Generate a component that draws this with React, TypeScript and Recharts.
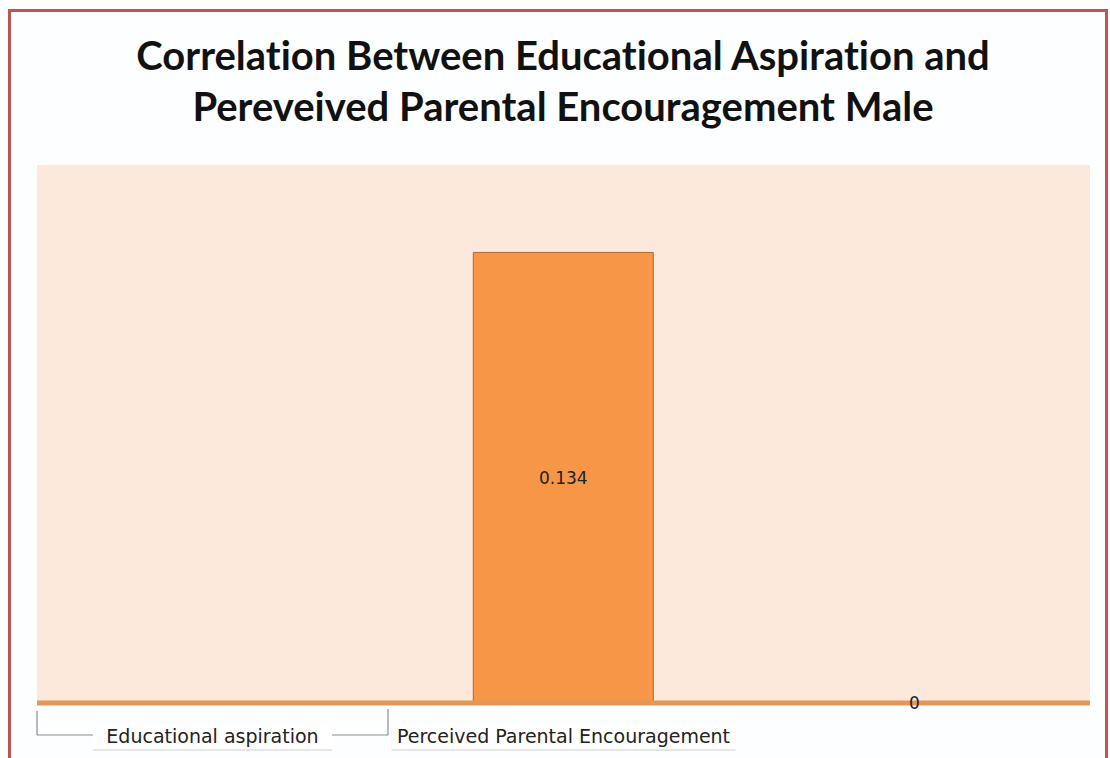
import React from 'react';
import { BarChart, Bar, XAxis, YAxis, CartesianGrid, LabelList } from 'recharts';

const categories = ['Educational aspiration', 'Perceived Parental Encouragement', ''];
const values: (number | null)[] = [null, 0.134, 0];
const titleLines = ['Correlation Between Educational Aspiration and', 'Pereveived Parental Encouragement Male'];

const data = categories.map((c, i) => ({ name: c, value: values[i] }));

const W = 1110;
const H = 758;
const M = { top: 165, right: 20, left: 37, bottom: 10 };
const BAND = (W - M.left - M.right) / categories.length;

const Tick = (props: any) => {
  const { x, y, payload, index } = props;
  const label = payload.value as string;
  const textW = label.length * 10.5;
  return (
    <g>
      {index === 0 && (
        <g stroke="#8a8a8a" strokeWidth={1.2} fill="none">
          <line x1={x - BAND / 2} y1={y} x2={x - BAND / 2} y2={y + 24} />
          <line x1={x - BAND / 2} y1={y + 24} x2={x + BAND / 2} y2={y + 24} />
          <line x1={x + BAND / 2} y1={y - 2} x2={x + BAND / 2} y2={y + 24} />
        </g>
      )}
      {label !== '' && (
        <g>
          <rect x={x - textW / 2 - 4} y={y + 16} width={textW + 8} height={24} fill="#e6e6e6" />
          <rect x={x - textW / 2 - 4} y={y + 14} width={textW + 8} height={24} fill="#ffffff" />
          <text x={x} y={y + 32} textAnchor="middle" fill="#222" fontSize={19} fontFamily="DejaVu Sans">
            {label}
          </text>
        </g>
      )}
    </g>
  );
};

const ValueLabel = (props: any) => {
  const { x, y, width, height, value } = props;
  if (value === null || value === undefined) return null;
  return (
    <text
      x={x + width / 2}
      y={y + height / 2}
      textAnchor="middle"
      dominantBaseline="central"
      fill="#222"
      fontSize={17}
      fontFamily="DejaVu Sans"
    >
      {String(value)}
    </text>
  );
};

export default function App() {
  return (
    <div style={{ position: 'absolute', left: 0, top: 0, width: W, height: H, background: '#fff', overflow: 'hidden' }}>
      <div
        style={{
          position: 'absolute',
          left: 8,
          top: 9,
          width: 1094,
          height: 800,
          border: '3px solid #bf5450',
          background: '#fdfeff',
        }}
      />
      <div
        style={{
          position: 'absolute',
          left: 0,
          top: 30,
          width: 1126,
          textAlign: 'center',
          fontFamily: 'Lato',
          fontWeight: 700,
          fontSize: 40,
          lineHeight: '51px',
          color: '#111',
          fontVariantLigatures: 'none',
        }}
      >
        {titleLines.map((t) => (
          <div key={t}>{t}</div>
        ))}
      </div>
      <div style={{ position: 'absolute', left: 0, top: 0 }}>
        <BarChart width={W} height={H} data={data} margin={M} barCategoryGap="24.3%">
          <CartesianGrid fill="#fce9dc" stroke="none" horizontal={false} vertical={false} />
          <YAxis hide domain={[0, 0.16]} />
          <XAxis
            dataKey="name"
            axisLine={{ stroke: '#e5975a', strokeWidth: 5 }}
            tickLine={false}
            height={45}
            tick={<Tick />}
            interval={0}
          />
          <Bar
            dataKey="value"
            fill="#f79646"
            stroke="#b4682f"
            strokeWidth={1}
            isAnimationActive={false}
            minPointSize={(v: any) => (v === 0 ? 1 : 0)}
          >
            <LabelList dataKey="value" content={<ValueLabel />} />
          </Bar>
        </BarChart>
      </div>
    </div>
  );
}
